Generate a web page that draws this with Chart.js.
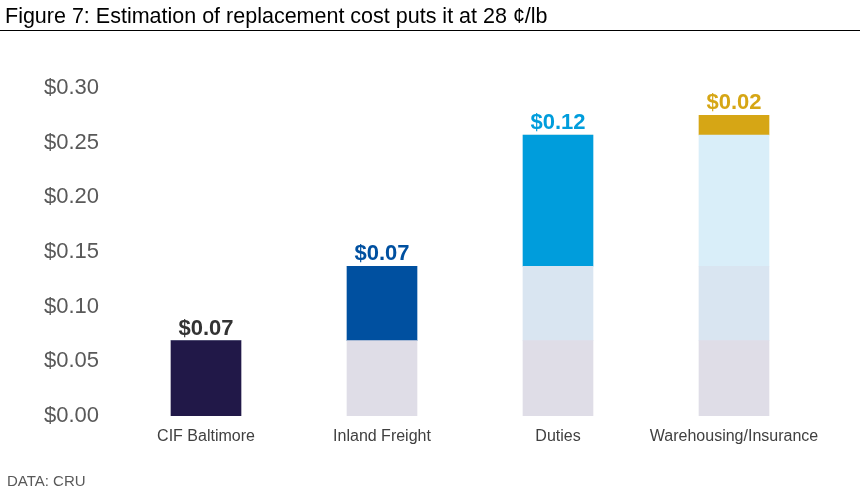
<!DOCTYPE html>
<html>
<head>
<meta charset="utf-8">
<script src="https://cdn.jsdelivr.net/npm/chart.js@4.4.1/dist/chart.umd.min.js"></script>
<style>
  html, body { margin: 0; padding: 0; background: #fff; }
  body { width: 865px; height: 495px; position: relative; overflow: hidden; font-family: "Liberation Sans", Arial, sans-serif; }
  #title { position: absolute; left: 5px; top: 4px; font-size: 21.5px; color: #000; white-space: nowrap; }
  #rule { position: absolute; left: 0; top: 30px; width: 860px; height: 1px; background: #000; }
  #source { position: absolute; left: 7px; top: 472px; font-size: 15px; color: #595959; }
  #wrap { position: absolute; left: 0; top: 0; width: 865px; height: 495px; }
</style>
</head>
<body>
<div id="wrap"><canvas id="costChart" width="865" height="495"></canvas></div>
<div id="title">Figure 7: Estimation of replacement cost puts it at 28 ¢/lb</div>
<div id="rule"></div>
<div id="source">DATA: CRU</div>
<script>
// Cost build-up, $/lb
const categories = ['CIF Baltimore', 'Inland Freight', 'Duties', 'Warehousing/Insurance'];
const costs = [0.069, 0.068, 0.12, 0.018];
const yTicks = [0, 0.05, 0.10, 0.15, 0.20, 0.25, 0.30];

// Solid colour of each step and the faded colour it leaves under later steps
const solidColors = ['#211848', '#0050A0', '#009DDC', '#D6A615'];
const ghostColors = ['#DFDDE7', '#D9E5F1', '#D9EEF9', '#F5EBCB'];
const labelColors = ['#333333', '#0050A0', '#009DDC', '#D6A615'];

// One stacked layer per step: solid in its own column, ghost in the later ones
const datasets = costs.map((c, i) => ({
    label: categories[i],
    data: categories.map((_, j) => (j >= i ? c : 0)),
    backgroundColor: categories.map((_, j) => (j === i ? solidColors[i] : ghostColors[i])),
    borderWidth: 0,
    barThickness: 70
}));

// Draws the value above the solid segment of each column
const valueLabels = {
    id: 'valueLabels',
    afterDatasetsDraw(chart) {
        const ctx = chart.ctx;
        ctx.save();
        ctx.font = 'bold 22px "Liberation Sans", Arial, sans-serif';
        ctx.textAlign = 'center';
        ctx.textBaseline = 'bottom';
        costs.forEach((c, i) => {
            const bar = chart.getDatasetMeta(i).data[i];
            ctx.fillStyle = labelColors[i];
            ctx.fillText('$' + c.toFixed(2), bar.x, bar.y - 1);
        });
        ctx.restore();
    }
};

new Chart(document.getElementById('costChart'), {
    type: 'bar',
    data: { labels: categories, datasets: datasets },
    plugins: [valueLabels],
    options: {
        responsive: false,
        animation: false,
        devicePixelRatio: 1,
        layout: { padding: { top: 88, right: 43, left: 0, bottom: 0 } },
        plugins: { legend: { display: false }, tooltip: { enabled: false } },
        scales: {
            x: {
                stacked: true,
                grid: { display: false, drawTicks: false },
                border: { display: false },
                ticks: { color: '#404040', padding: 11, font: { size: 16, family: '"Liberation Sans", Arial, sans-serif' } },
                afterFit(scale) { scale.height = 79; }
            },
            y: {
                stacked: true,
                min: 0,
                max: 0.30,
                grid: { display: false, drawTicks: false },
                border: { display: false },
                afterBuildTicks(scale) { scale.ticks = yTicks.map(v => ({ value: v })); },
                ticks: {
                    color: '#595959',
                    padding: 19,
                    font: { size: 22, family: '"Liberation Sans", Arial, sans-serif' },
                    callback: v => '$' + v.toFixed(2)
                },
                afterFit(scale) { scale.width = 118; }
            }
        }
    }
});
</script>
</body>
</html>
